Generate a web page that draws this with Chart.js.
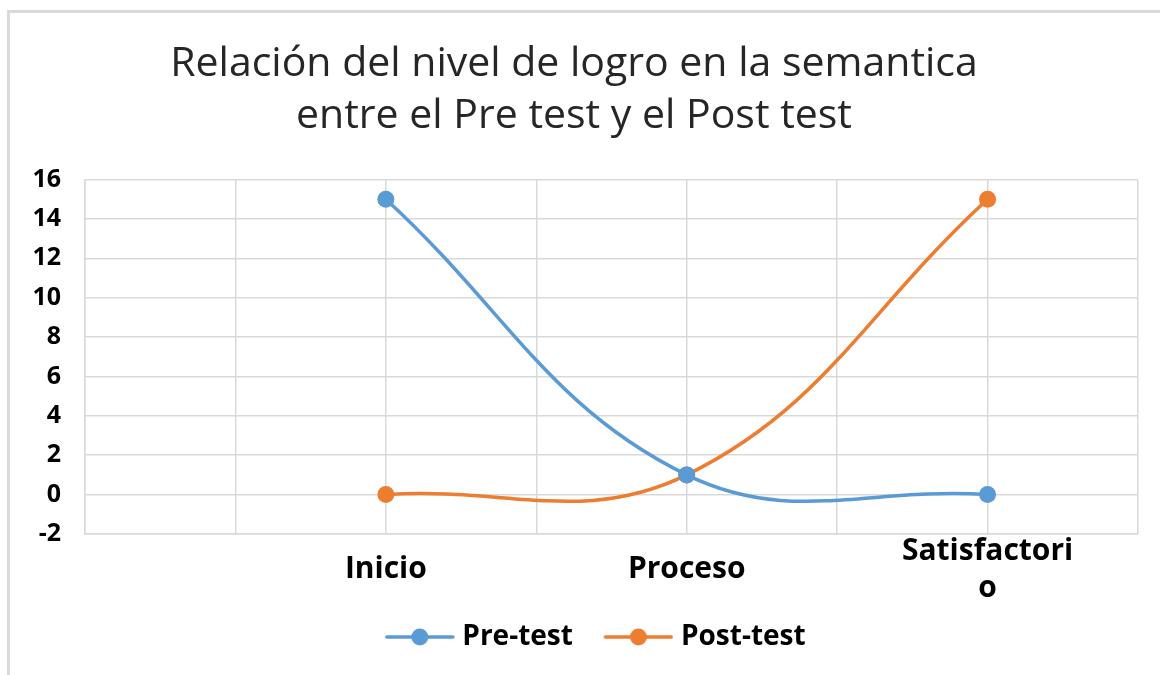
<!DOCTYPE html>
<html>
<head>
<meta charset="utf-8">
<script src="https://cdn.jsdelivr.net/npm/chart.js@4.4.1/dist/chart.umd.min.js"></script>
<style>
  html, body { margin: 0; padding: 0; background: #fff; }
  #marco { position: absolute; left: 0; top: 0; width: 1160px; height: 675px; overflow: hidden; }
  #borde { position: absolute; left: 7px; top: 10px; width: 1200px; height: 700px;
           border-left: 3px solid #d9d9d9; border-top: 3px solid #d9d9d9; }
  canvas { position: absolute; left: 0; top: 0; }
</style>
</head>
<body>
<div id="marco">
  <div id="borde"></div>
  <canvas id="logroChart" width="1160" height="675"></canvas>
</div>
<script>
// Datos
const categorias = ['Inicio', 'Proceso', 'Satisfactorio'];
const preTest = [15, 1, 0];
const postTest = [0, 1, 15];
const ticksY = [-2, 0, 2, 4, 6, 8, 10, 12, 14, 16];

const azul = '#5b9bd5';
const naranja = '#ed7d31';

// El eje tiene una division vacia entre cada categoria (como en el original)
const etiquetas = [''];
categorias.forEach(c => etiquetas.push('', c));
etiquetas.push('');

function serie(valores) {
    const out = [null];
    valores.forEach(v => out.push(null, v));
    out.push(null);
    return out;
}

// simbolo de leyenda: linea con circulo (con margen a la izquierda)
function simbolo(color) {
    const c = document.createElement('canvas');
    c.width = 93; c.height = 20;
    const g = c.getContext('2d');
    g.strokeStyle = color;
    g.lineWidth = 3.5;
    g.lineCap = 'round';
    g.beginPath(); g.moveTo(25, 10); g.lineTo(91, 10); g.stroke();
    g.fillStyle = color;
    g.beginPath(); g.arc(58, 10, 8.5, 0, Math.PI * 2); g.fill();
    return c;
}

// la leyenda del original esta un poco a la derecha del centro
const moverLeyenda = {
    id: 'moverLeyenda',
    afterLayout(chart) {
        chart.legend.left += 13;
        chart.legend.right += 13;
    }
};

const ctx = document.getElementById('logroChart').getContext('2d');
const logroChart = new Chart(ctx, {
    type: 'line',
    data: {
        labels: etiquetas,
        datasets: [{
            label: 'Pre-test',
            data: serie(preTest),
            borderColor: azul,
            backgroundColor: azul,
            borderWidth: 3.5,
            pointRadius: 8.5,
            pointHoverRadius: 8.5,
            pointBorderWidth: 0,
            tension: 0.4,
            spanGaps: true
        }, {
            label: 'Post-test',
            data: serie(postTest),
            borderColor: naranja,
            backgroundColor: naranja,
            borderWidth: 3.5,
            pointRadius: 8.5,
            pointHoverRadius: 8.5,
            pointBorderWidth: 0,
            tension: 0.4,
            spanGaps: true
        }]
    },
    plugins: [moverLeyenda],
    options: {
        responsive: false,
        animation: false,
        layout: { padding: { left: 10, right: 22, top: 0, bottom: 14 } },
        plugins: {
            title: {
                display: true,
                text: ['Relación del nivel de logro en la semantica', 'entre el Pre test y el Post test'],
                color: '#262626',
                font: { family: 'Open Sans', size: 41, weight: 'normal', lineHeight: 1.25 },
                padding: { top: 39, bottom: 38 }
            },
            legend: {
                position: 'bottom',
                labels: {
                    color: '#000',
                    font: { family: 'Open Sans', size: 28, weight: 'bold' },
                    usePointStyle: true,
                    pointStyleWidth: 80,
                    padding: 14,
                    generateLabels: (chart) => chart.data.datasets.map((ds, i) => ({
                        text: ds.label,
                        pointStyle: simbolo(ds.borderColor),
                        fillStyle: ds.borderColor,
                        strokeStyle: ds.borderColor,
                        lineWidth: 0,
                        datasetIndex: i,
                        fontColor: '#000'
                    }))
                }
            },
            tooltip: { enabled: false }
        },
        scales: {
            x: {
                offset: false,
                grid: { color: '#d9d9d9', lineWidth: 1.5, drawTicks: false },
                border: { color: '#d9d9d9', width: 1.5 },
                afterFit: (axis) => { axis.height -= 34; },
                ticks: {
                    color: '#000',
                    font: { family: 'Open Sans', size: 30, weight: 'bold', lineHeight: 1.25 },
                    padding: 17,
                    crossAlign: 'center',
                    maxRotation: 0,
                    autoSkip: false,
                    callback: function (v) {
                        const t = this.getLabelForValue(v);
                        return t.length > 12 ? [t.slice(0, 12), t.slice(12)] : t;
                    }
                }
            },
            y: {
                min: ticksY[0],
                max: ticksY[ticksY.length - 1],
                grid: { color: '#d9d9d9', lineWidth: 1.5, drawTicks: false },
                border: { color: '#d9d9d9', width: 1.5 },
                afterFit: (axis) => { axis.width = 75; },
                afterBuildTicks: (axis) => { axis.ticks = ticksY.map(v => ({ value: v })); },
                ticks: {
                    color: '#000',
                    font: { family: 'Open Sans', size: 25, weight: 'bold' },
                    padding: 24
                }
            }
        }
    }
});
</script>
</body>
</html>
